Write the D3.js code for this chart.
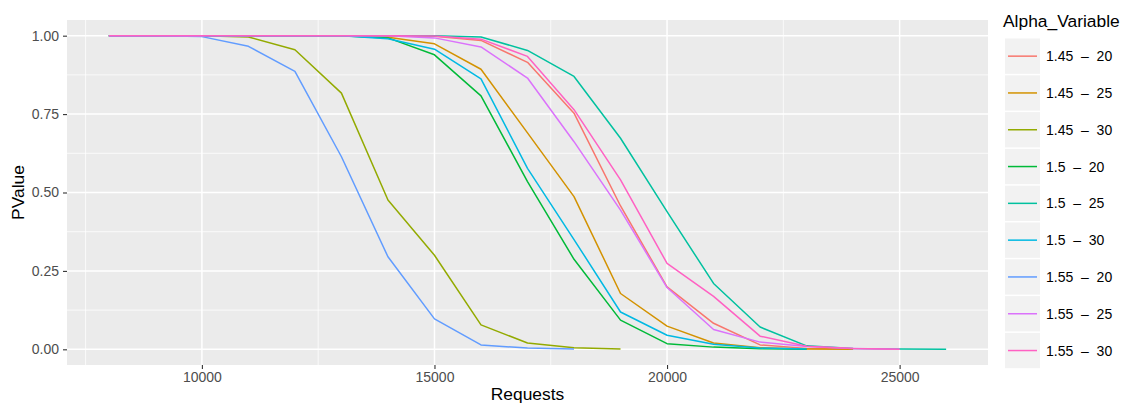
<!DOCTYPE html>
<html>
<head>
<meta charset="utf-8">
<script src="https://cdn.jsdelivr.net/npm/d3@7"></script>
<style>
  html, body { margin: 0; padding: 0; background: #fff; }
  svg { display: block; font-family: "Liberation Sans", Arial, Helvetica, sans-serif; }
</style>
</head>
<body>
<svg id="chart" width="1124" height="405"></svg>
<script>
// Requests grid: every series starts at 8000 and steps by 1000
const startRequest = 8000;
const stepRequest = 1000;

const seriesNames = [
  "1.45  \u2013  20", "1.45  \u2013  25", "1.45  \u2013  30",
  "1.5  \u2013  20", "1.5  \u2013  25", "1.5  \u2013  30",
  "1.55  \u2013  20", "1.55  \u2013  25", "1.55  \u2013  30"
];

const seriesColors = [
  "#F8766D", "#D39200", "#93AA00",
  "#00BA38", "#00C19F", "#00B9E3",
  "#619CFF", "#DB72FB", "#FF61C3"
];

// PValue per series, one entry per request step
const pv_145_20 = [1, 1, 1, 1, 1, 1, 1, 0.998, 0.985, 0.915, 0.753, 0.457, 0.199, 0.083, 0.014, 0.003, 0.001];
const pv_145_25 = [1, 1, 1, 1, 1, 1, 0.995, 0.974, 0.893, 0.69, 0.487, 0.178, 0.074, 0.02, 0.005, 0.001, 0];
const pv_145_30 = [1, 1, 1, 0.996, 0.955, 0.817, 0.476, 0.300, 0.078, 0.020, 0.005, 0.001];
const pv_150_20 = [1, 1, 1, 1, 1, 1, 0.993, 0.939, 0.808, 0.535, 0.287, 0.093, 0.018, 0.007, 0.002, 0];
const pv_150_25 = [1, 1, 1, 1, 1, 1, 1, 1, 0.996, 0.953, 0.87, 0.673, 0.439, 0.21, 0.071, 0.011, 0.003, 0.001, 0];
const pv_150_30 = [1, 1, 1, 1, 1, 1, 0.99, 0.957, 0.862, 0.577, 0.35, 0.119, 0.045, 0.016, 0.004, 0.001];
const pv_155_20 = [1, 1, 0.997, 0.966, 0.886, 0.614, 0.295, 0.097, 0.014, 0.004, 0.001];
const pv_155_25 = [1, 1, 1, 1, 1, 1, 1, 0.993, 0.964, 0.865, 0.662, 0.444, 0.197, 0.063, 0.023, 0.009, 0.003, 0];
const pv_155_30 = [1, 1, 1, 1, 1, 1, 1, 0.999, 0.989, 0.934, 0.764, 0.54, 0.274, 0.169, 0.042, 0.01, 0.003, 0];

const seriesValues = [pv_145_20, pv_145_25, pv_145_30, pv_150_20, pv_150_25, pv_150_30, pv_155_20, pv_155_25, pv_155_30];

const xTicks = [10000, 15000, 20000, 25000];
const xMinor = [7500, 12500, 17500, 22500];
const yTicks = [0, 0.25, 0.5, 0.75, 1];
const yMinor = [0.125, 0.375, 0.625, 0.875];

const series = seriesNames.map((name, i) => ({
  name,
  color: seriesColors[i],
  points: seriesValues[i].map((p, j) => ({ x: startRequest + j * stepRequest, y: p }))
}));

const svg = d3.select("#chart");
const panel = { left: 67, right: 988, top: 20, bottom: 365 };

// ggplot-style 5% expansion around the data range
const xMin = 8000, xMax = 26000;
const xPad = (xMax - xMin) * 0.05;
const x = d3.scaleLinear().domain([xMin - xPad, xMax + xPad]).range([panel.left, panel.right]);
const y = d3.scaleLinear().domain([-0.05, 1.05]).range([panel.bottom, panel.top]);

// panel background
svg.append("rect")
  .attr("x", panel.left).attr("y", panel.top)
  .attr("width", panel.right - panel.left).attr("height", panel.bottom - panel.top)
  .attr("fill", "#EBEBEB");

const grid = svg.append("g");
grid.selectAll(".xminor").data(xMinor).enter().append("line")
  .attr("x1", d => x(d)).attr("x2", d => x(d))
  .attr("y1", panel.top).attr("y2", panel.bottom)
  .attr("stroke", "#fff").attr("stroke-width", 0.75);
grid.selectAll(".yminor").data(yMinor).enter().append("line")
  .attr("y1", d => y(d)).attr("y2", d => y(d))
  .attr("x1", panel.left).attr("x2", panel.right)
  .attr("stroke", "#fff").attr("stroke-width", 0.75);
grid.selectAll(".xmajor").data(xTicks).enter().append("line")
  .attr("x1", d => x(d)).attr("x2", d => x(d))
  .attr("y1", panel.top).attr("y2", panel.bottom)
  .attr("stroke", "#fff").attr("stroke-width", 1.5);
grid.selectAll(".ymajor").data(yTicks).enter().append("line")
  .attr("y1", d => y(d)).attr("y2", d => y(d))
  .attr("x1", panel.left).attr("x2", panel.right)
  .attr("stroke", "#fff").attr("stroke-width", 1.5);

// series lines
const line = d3.line().x(d => x(d.x)).y(d => y(d.y));
svg.append("g").selectAll("path").data(series).enter().append("path")
  .attr("d", d => line(d.points))
  .attr("fill", "none")
  .attr("stroke", d => d.color)
  .attr("stroke-width", 1.5)
  .attr("stroke-linejoin", "round");

// axes
const xAxis = svg.append("g")
  .attr("transform", `translate(0,${panel.bottom})`)
  .call(d3.axisBottom(x).tickValues(xTicks).tickFormat(d3.format("d")).tickSize(4).tickPadding(3));
const yAxis = svg.append("g")
  .attr("transform", `translate(${panel.left},0)`)
  .call(d3.axisLeft(y).tickValues(yTicks).tickFormat(d3.format(".2f")).tickSize(4).tickPadding(4));
[xAxis, yAxis].forEach(a => {
  a.select(".domain").remove();
  a.selectAll(".tick line").attr("stroke", "#333").attr("stroke-width", 1.1);
  a.selectAll(".tick text").attr("fill", "#4D4D4D").style("font-size", "14px")
    .style("font-family", "'Liberation Sans', Arial, sans-serif");
});

// axis titles
svg.append("text")
  .attr("x", (panel.left + panel.right) / 2).attr("y", 400)
  .attr("text-anchor", "middle").style("font-size", "17.4px").attr("fill", "#000")
  .text("Requests");
svg.append("text")
  .attr("transform", `translate(24,${(panel.top + panel.bottom) / 2}) rotate(-90)`)
  .attr("text-anchor", "middle").style("font-size", "17.4px").attr("fill", "#000")
  .text("PValue");

// legend
const legend = svg.append("g").attr("transform", "translate(1005,0)");
legend.append("text")
  .attr("x", -2).attr("y", 27)
  .style("font-size", "17.4px").attr("fill", "#000")
  .text("Alpha_Variable");
const keyH = 36.8, keyTop = 38.5, keyW = 35;
const items = legend.selectAll(".item").data(series).enter().append("g")
  .attr("transform", (d, i) => `translate(0,${keyTop + i * keyH})`);
items.append("rect")
  .attr("x", 0).attr("y", 0).attr("width", keyW).attr("height", keyH - 1.5)
  .attr("fill", "#F2F2F2");
items.append("line")
  .attr("x1", 3).attr("x2", keyW - 3)
  .attr("y1", (keyH - 1.5) / 2).attr("y2", (keyH - 1.5) / 2)
  .attr("stroke", d => d.color).attr("stroke-width", 1.5);
items.append("text")
  .attr("x", keyW + 6).attr("y", (keyH - 1.5) / 2)
  .attr("dy", "0.36em")
  .style("font-size", "14px").style("white-space", "pre").attr("fill", "#000")
  .text(d => d.name);
</script>
</body>
</html>
